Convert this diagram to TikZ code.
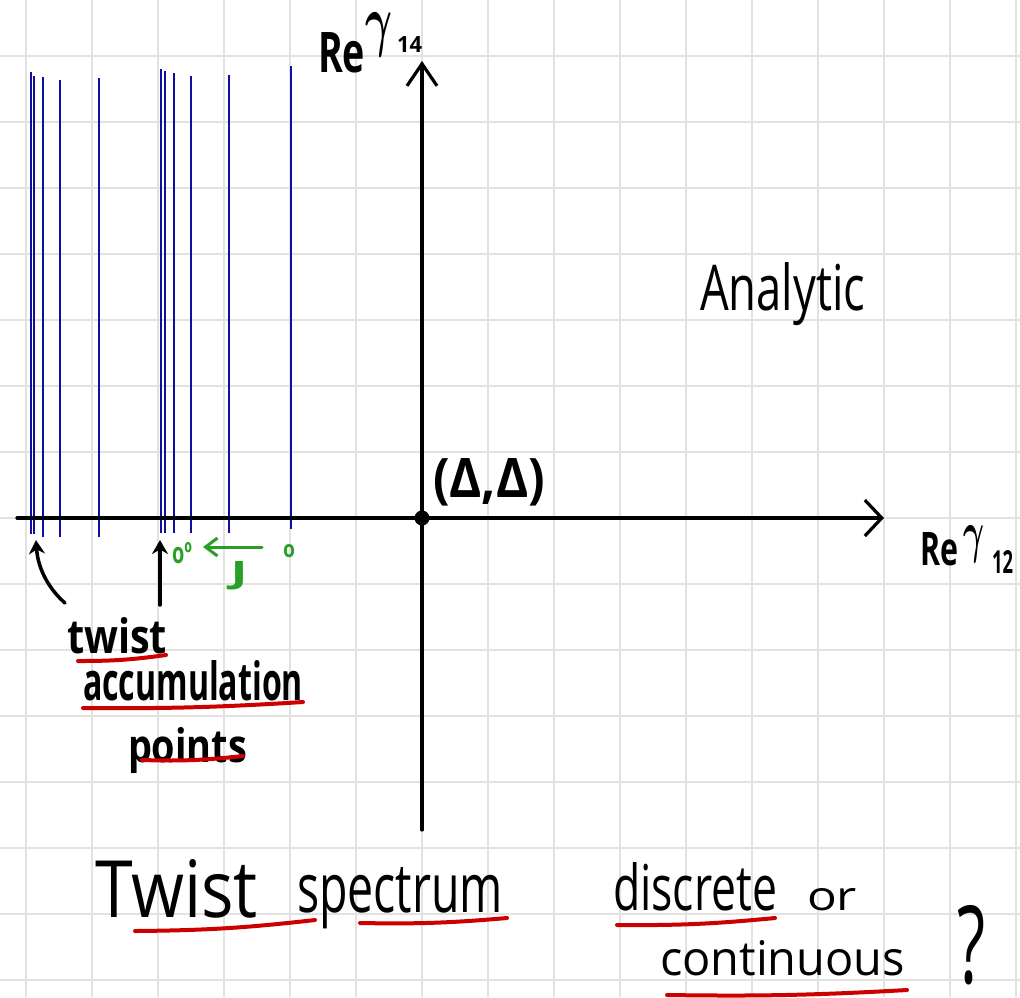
\documentclass[tikz,border=0pt]{standalone}
\usepackage{amsmath}
\usepackage{bm}
\usepackage{fontspec}
\setmainfont{Open Sans}
\usetikzlibrary{arrows.meta}
\definecolor{gridc}{RGB}{226,226,226}
\definecolor{specblue}{RGB}{15,15,160}
\definecolor{hgreen}{RGB}{40,160,40}
\definecolor{hred}{RGB}{205,0,0}
\newcommand\hw[3]{\resizebox{#1pt}{#2pt}{#3}}
\newcommand\hwt[3]{\resizebox*{#1pt}{#2pt}{#3}}
\begin{document}
\begin{tikzpicture}[x=1pt,y=-1pt,
  gridline/.style={gridc,line width=2pt},
  axisline/.style={black,line width=3.2pt,line cap=round},
  specline/.style={specblue,line width=2.4pt},
  blkarrow/.style={black,line width=3.5pt,line cap=round,-{Stealth[length=14pt,width=16pt]}},
  grnline/.style={hgreen,line width=3pt,line cap=round},
  redline/.style={hred,line width=4pt,line cap=round},
  txt/.style={anchor=base west,inner sep=0pt,outer sep=0pt},
  btxt/.style={txt,font=\bfseries},
  gtxt/.style={inner sep=0pt,outer sep=0pt,text=hgreen,font=\bfseries}]
\useasboundingbox (0,0) rectangle (1020,997);
\fill[white] (0,0) rectangle (1020,997);
% grid
\foreach \x in {26,92,...,1016} \draw[gridline] (\x,0) -- (\x,997);
\foreach \y in {56,122,...,980} \draw[gridline] (0,\y) -- (1020,\y);
% spectrum lines
\foreach \x/\t/\b in {30.7/72/534,34/76/534,43/77/537,60/80/537,98.7/78/537,161/69/533,164.7/71/533,174/73/533,191/76/533,229/75/533,291/66/529}
  \draw[specline] (\x,\t) -- (\x,\b);
% axes
\coordinate (xs) at (17,518);
\coordinate (xe) at (884,518);
\coordinate (ys) at (422,830);
\coordinate (ye) at (422,61);
\draw[axisline,-{Straight Barb[length=17pt,width=36pt,line width=3.2pt]}] (xs) -- (xe);
\draw[axisline,-{Straight Barb[length=22pt,width=30pt,line width=3.2pt]}] (ys) -- (ye);
\node[circle,fill=black,inner sep=0pt,minimum size=15pt] (origin) at (422,518) {};
% axis labels
\node[btxt] (re14) at (318,72) {\hw{47}{40}{Re}};
\node[inner sep=0pt] (g14) at (379,35) {\hwt{27}{44}{$\bm{\gamma}$}};
\node[btxt] (s14) at (397,52) {\hw{25}{16}{14}};
\node[btxt] (re12) at (920,565) {\hw{38}{33}{Re}};
\node[inner sep=0pt] (g12) at (974,544) {\hwt{21}{37}{$\bm{\gamma}$}};
\node[btxt] (s12) at (992,573) {\hw{21}{23}{12}};
\node[btxt] (dd) at (433,497) {\hw{112}{39}{(Δ,Δ)}};
\node[txt] (analytic) at (700,310) {\hw{165}{48}{Analytic}};
% green annotations
\node[gtxt] (o1) at (289,551) {\hw{12}{13}{o}};
\node[gtxt] (o2) at (182,553) {\hw{20}{21}{oº}};
\coordinate (ga) at (262,547);
\coordinate (gb) at (203,547);
\draw[grnline,-{Straight Barb[length=12pt,width=18pt,line width=3pt]}] (ga) -- (gb);
\node[gtxt] (J) at (239,576) {\hw{17}{22}{J}};
% black arrows
\coordinate (a1s) at (65,603);
\coordinate (a1e) at (36,540);
\coordinate (a2s) at (160,605);
\coordinate (a2e) at (160,540);
\draw[blkarrow] (a1s) .. controls (50,590) and (38,570) .. (a1e);
\draw[blkarrow] (a2s) -- (a2e);
% twist accumulation points
\node[btxt] (twist) at (67,653) {\hw{100}{36}{twist}};
\node[btxt] (accum) at (83,700) {\hw{220}{40}{accumulation}};
\node[btxt] (points) at (128,762) {\hw{119}{35}{points}};
\draw[redline] (78,661) to[bend right=4] (166,655);
\draw[redline] (83,708) to[bend right=2] (303,702);
\draw[redline] (142,760) to[bend right=4] (243,756);
% bottom text
\node[txt] (Twist) at (95,917) {\hw{163}{58}{Twist}};
\node[txt] (spectrum) at (297,912) {\hw{206}{45}{spectrum}};
\node[txt] (discrete) at (613,910) {\hw{164}{48}{discrete}};
\node[txt] (or) at (807,910) {\hw{50}{22}{or}};
\node[txt] (continuous) at (660,975) {\hw{245}{35}{continuous}};
\node[txt] (qm) at (957,983) {\hw{28}{78}{?}};
\draw[redline] (135,931) to[bend right=3] (315,920);
\draw[redline] (360,923) to[bend right=3] (507,918);
\draw[redline] (617,925) to[bend right=3] (775,918);
\draw[redline] (667,995) to[bend right=2] (907,990);
\end{tikzpicture}
\end{document}
